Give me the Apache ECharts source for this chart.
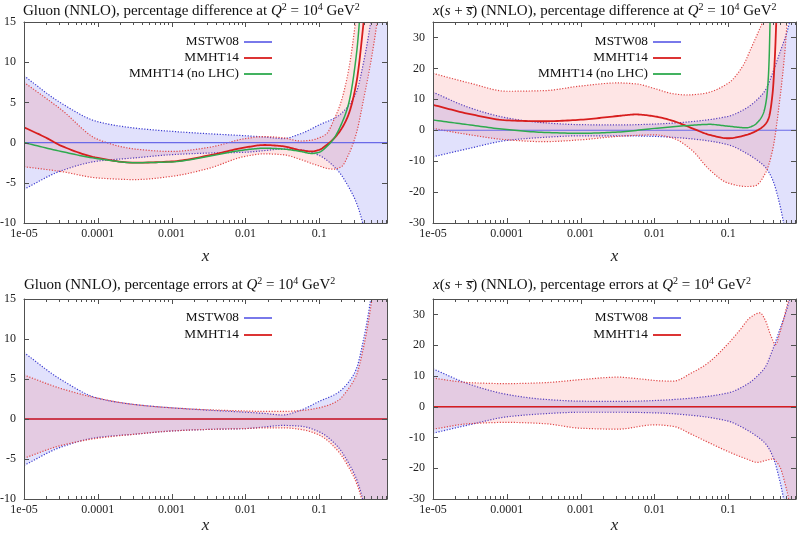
<!DOCTYPE html>
<html><head><meta charset="utf-8">
<script src="https://cdn.jsdelivr.net/npm/echarts@6/dist/echarts.min.js"></script>
<style>html,body{margin:0;padding:0;background:#fff}#c{width:798px;height:539px}</style>
</head><body><div id="c"></div>
<script>
// ---------- axes ----------
const X_MIN = 1e-5, X_MAX = 0.83;
const xTickValues = [1e-5, 1e-4, 1e-3, 1e-2, 1e-1];
const xTickLabels = ['1e-05', '0.0001', '0.001', '0.01', '0.1'];
const yTicksGluon = [-10, -5, 0, 5, 10, 15];
const yTicksStrange = [-30, -20, -10, 0, 10, 20, 30];
const zeroLine = [[1e-5, 0], [0.83, 0]];

// ---------- gluon: MSTW08 error band (same in difference and error panels) ----------
const gMstwUp = [[1e-5,8.3],[3.2e-5,4.9],[1e-4,2.6],[3.2e-4,1.8],[1e-3,1.4],[3.2e-3,1.1],[0.01,0.85],[0.018,0.7],[0.032,0.5],[0.056,1.1],[0.1,2.2],[0.18,3.3],[0.25,4.6],[0.32,6.3],[0.4,10],[0.5,15],[0.63,22],[0.83,32]];
const gMstwLo = [[1e-5,-5.8],[3.2e-5,-3.5],[1e-4,-2.3],[3.2e-4,-1.9],[1e-3,-1.5],[3.2e-3,-1.3],[0.01,-1.2],[0.018,-1.0],[0.032,-0.8],[0.056,-0.9],[0.1,-1.6],[0.18,-3.5],[0.25,-5.5],[0.32,-7.5],[0.4,-10.5],[0.5,-16],[0.63,-25],[0.83,-40]];
// gluon: MMHT14 difference from MSTW08 (central, band) and no-LHC fit
const gMmhtCen = [[1e-5,1.9],[2e-5,0.6],[3.2e-5,-0.4],[1e-4,-1.9],[3.2e-4,-2.5],[1e-3,-2.35],[3.2e-3,-1.6],[0.01,-0.6],[0.018,-0.3],[0.032,-0.45],[0.056,-0.95],[0.079,-1.1],[0.1,-0.9],[0.126,-0.3],[0.158,0.5],[0.2,1.7],[0.25,3.5],[0.32,7.5],[0.4,15],[0.5,25]];
const gMmhtDiffUp = [[1e-5,7.5],[3.2e-5,4.1],[1e-4,0.4],[3.2e-4,-0.8],[1e-3,-1.1],[3.2e-3,-0.6],[0.01,0.5],[0.018,0.75],[0.032,0.6],[0.056,0.2],[0.079,0.3],[0.1,0.6],[0.126,1.1],[0.158,2.8],[0.2,5.2],[0.25,9],[0.32,16],[0.4,25]];
const gMmhtDiffLo = [[1e-5,-3.0],[3.2e-5,-3.6],[1e-4,-4.4],[3.2e-4,-4.6],[1e-3,-4.2],[3.2e-3,-3.2],[0.01,-1.7],[0.018,-1.4],[0.032,-1.5],[0.056,-2.1],[0.079,-2.6],[0.1,-2.9],[0.126,-3.2],[0.158,-3.3],[0.2,-3.0],[0.25,-1.5],[0.32,1.2],[0.4,5.4],[0.5,10],[0.63,16],[0.8,25]];
const gNoLhc = [[1e-5,0.0],[3.2e-5,-1.1],[1e-4,-2.0],[3.2e-4,-2.5],[1e-3,-2.4],[3.2e-3,-1.7],[0.01,-0.9],[0.018,-0.7],[0.032,-0.8],[0.056,-1.1],[0.079,-1.35],[0.1,-1.2],[0.126,-0.5],[0.158,0.5],[0.2,2.3],[0.25,4.8],[0.32,11],[0.4,22]];
// gluon: MMHT14 error band
const gMmhtErrUp = [[1e-5,5.5],[3.2e-5,3.8],[1e-4,2.6],[3.2e-4,1.8],[1e-3,1.4],[3.2e-3,1.15],[0.01,1.0],[0.018,0.95],[0.032,0.95],[0.056,1.05],[0.1,1.4],[0.18,2.3],[0.25,3.8],[0.32,5.5],[0.4,9],[0.5,14],[0.63,21],[0.83,31]];
const gMmhtErrLo = [[1e-5,-4.9],[3.2e-5,-3.3],[1e-4,-2.4],[3.2e-4,-1.9],[1e-3,-1.5],[3.2e-3,-1.3],[0.01,-1.2],[0.018,-1.1],[0.032,-1.1],[0.056,-1.3],[0.1,-2.0],[0.18,-4.0],[0.25,-6.0],[0.32,-8.0],[0.4,-11],[0.5,-17],[0.63,-26],[0.83,-40]];

// ---------- strange x(s+sbar): MSTW08 error band ----------
const sMstwUp = [[1e-5,12.3],[3.2e-5,7.2],[1e-4,4.0],[3.2e-4,2.4],[1e-3,1.8],[3.2e-3,1.7],[0.01,2.0],[0.032,2.8],[0.1,4.5],[0.178,7.2],[0.25,10],[0.32,13],[0.4,18.5],[0.5,25],[0.63,32],[0.83,44]];
const sMstwLo = [[1e-5,-8.6],[3.2e-5,-5.8],[1e-4,-3.3],[3.2e-4,-2.3],[1e-3,-1.8],[3.2e-3,-1.8],[0.01,-2.0],[0.032,-2.8],[0.1,-4.7],[0.178,-7.5],[0.25,-9.8],[0.32,-12],[0.4,-16],[0.5,-24],[0.63,-36],[0.83,-50]];
// strange: MMHT14 difference
const sMmhtCen = [[1e-5,8.2],[3.2e-5,5.2],[1e-4,3.2],[3.2e-4,2.9],[1e-3,3.4],[3.2e-3,4.6],[0.0056,5.1],[0.01,4.5],[0.018,3.0],[0.032,0.7],[0.056,-1.5],[0.1,-2.6],[0.178,-1.5],[0.25,0.0],[0.32,2.0],[0.355,4],[0.4,12],[0.43,24],[0.45,36]];
const sMmhtDiffUp = [[1e-5,18.4],[3.2e-5,15.2],[1e-4,12.6],[3.2e-4,12.8],[1e-3,14.3],[3.2e-3,15.3],[0.0056,15.0],[0.01,13.5],[0.018,11.8],[0.027,11.4],[0.045,11.8],[0.1,15.2],[0.16,21],[0.2,26],[0.27,33],[0.32,37]];
const sMmhtDiffLo = [[1e-5,0.6],[3.2e-5,-1.5],[1e-4,-3.1],[3.2e-4,-3.7],[1e-3,-3.1],[3.2e-3,-2.0],[0.01,-1.5],[0.018,-2.6],[0.032,-6.4],[0.056,-12.8],[0.1,-17.1],[0.178,-18.2],[0.23,-18],[0.32,-13.9],[0.4,-6.4],[0.5,9.8],[0.59,26],[0.63,35],[0.7,45]];
const sNoLhc = [[1e-5,3.3],[3.2e-5,1.7],[1e-4,0.2],[3.2e-4,-0.7],[1e-3,-1.0],[3.2e-3,-0.6],[0.01,0.6],[0.032,1.6],[0.056,1.9],[0.1,1.3],[0.178,0.8],[0.22,1.5],[0.26,3.0],[0.3,5.5],[0.33,10],[0.35,17],[0.36,24],[0.37,36]];
// strange: MMHT14 error band
const sMmhtErrUp = [[1e-5,9.3],[3.2e-5,7.8],[1e-4,7.5],[3.2e-4,7.8],[1e-3,8.8],[3.2e-3,9.6],[0.0065,9.0],[0.012,8.4],[0.018,8.3],[0.032,11],[0.05,13.7],[0.1,20.5],[0.145,25],[0.2,29],[0.27,30.5],[0.32,28],[0.38,23],[0.44,20.2],[0.5,24],[0.63,33],[0.83,46]];
const sMmhtErrLo = [[1e-5,-7.3],[3.2e-5,-5.5],[1e-4,-5.1],[3.2e-4,-5.5],[1e-3,-7.0],[3.2e-3,-7.3],[0.01,-5.9],[0.018,-6.4],[0.032,-9.0],[0.056,-11.8],[0.1,-14.6],[0.178,-17],[0.25,-18.1],[0.32,-17.5],[0.4,-17],[0.5,-19.5],[0.59,-25],[0.66,-30],[0.83,-48]];

// ---------- styling ----------
const FONT = "'Liberation Serif','DejaVu Serif',serif";
const AX = '#505050';
const C_BLUE = '#6a6ae8', C_BLUE_DOT = '#3c3cd0', C_RED = '#d81e1e', C_RED_DOT = '#e04848', C_GREEN = '#2eaa4e';
const F_BLUE = 'rgba(80,80,240,0.17)', F_RED = 'rgba(245,80,80,0.15)';

const grids = [
  {left: 24, top: 22, width: 363, height: 201},
  {left: 433, top: 22, width: 363, height: 201},
  {left: 24, top: 299, width: 363, height: 200},
  {left: 433, top: 299, width: 363, height: 200}
];
const xMinor = [];
for (let d = -5; d <= -1; d++) for (let k = 2; k <= 9; k++) { const v = k * Math.pow(10, d); if (v < X_MAX) xMinor.push(v); }

function xLabel(v) {
  for (let i = 0; i < xTickValues.length; i++) if (Math.abs(Math.log10(v) - Math.log10(xTickValues[i])) < 1e-6) return xTickLabels[i];
  return '';
}

const xAxes = [], yAxes = [];
grids.forEach((g, gi) => {
  const nameGap = gi < 2 ? 25 : 18;
  const base = {gridIndex: gi, type: 'log', logBase: 10, min: X_MIN, max: X_MAX, z: 6,
    splitLine: {show: false}, minorTick: {show: false}, minorSplitLine: {show: false}};
  xAxes.push(Object.assign({}, base, {position: 'bottom',
    axisLine: {show: true, onZero: false, lineStyle: {color: AX, width: 1}},
    axisTick: {show: false},
    axisLabel: {show: true, customValues: xTickValues, formatter: xLabel, margin: 5, fontSize: 12, fontFamily: FONT, color: '#222'},
    name: 'x', nameLocation: 'middle', nameGap: nameGap,
    nameTextStyle: {fontStyle: 'italic', fontSize: 17, fontFamily: FONT, color: '#222'}}));
  xAxes.push(Object.assign({}, base, {position: 'top',
    axisLine: {show: true, onZero: false, lineStyle: {color: AX, width: 1}},
    axisTick: {show: false}, axisLabel: {show: false}}));
  const gl = (gi % 2 === 0);
  const ticks = gl ? yTicksGluon : yTicksStrange;
  const ybase = {gridIndex: gi, type: 'value', min: gl ? -10 : -30, max: gl ? 15 : 35, interval: gl ? 5 : 10, z: 6,
    splitLine: {show: false}, axisTick: {show: false}};
  yAxes.push(Object.assign({}, ybase, {position: 'left',
    axisLine: {show: true, onZero: false, lineStyle: {color: AX, width: 1}},
    axisLabel: {show: true, customValues: ticks, margin: 8, fontSize: 12, fontFamily: FONT, color: '#222'}}));
  yAxes.push(Object.assign({}, ybase, {position: 'right',
    axisLine: {show: true, onZero: false, lineStyle: {color: AX, width: 1}},
    axisLabel: {show: false}}));
});

// monotone cubic sampling of projected points (rendering only)
function sampleCurve(P) {
  const N = P.length; if (N < 3) return P;
  const dx = [], m = [], t = [];
  for (let i = 0; i < N - 1; i++) { dx[i] = P[i+1][0] - P[i][0]; m[i] = (P[i+1][1] - P[i][1]) / dx[i]; }
  t[0] = m[0]; t[N-1] = m[N-2];
  for (let i = 1; i < N - 1; i++) {
    if (m[i-1] * m[i] <= 0) t[i] = 0;
    else { const w1 = 2*dx[i] + dx[i-1], w2 = dx[i] + 2*dx[i-1]; t[i] = (w1 + w2) / (w1/m[i-1] + w2/m[i]); }
  }
  const out = [];
  for (let i = 0; i < N - 1; i++) {
    const h = dx[i], n = 14;
    for (let k = 0; k < n; k++) {
      const s = k / n, s2 = s*s, s3 = s2*s;
      const y = (2*s3 - 3*s2 + 1) * P[i][1] + (s3 - 2*s2 + s) * h * t[i] + (-2*s3 + 3*s2) * P[i+1][1] + (s3 - s2) * h * t[i+1];
      out.push([P[i][0] + s*h, y]);
    }
  }
  out.push(P[N-1]);
  return out;
}
function clipOf(cs) { return {type: 'rect', shape: {x: cs.x, y: cs.y, width: cs.width, height: cs.height}}; }

function bandSeries(gi, up, lo, fill, stroke) {
  return {type: 'custom', coordinateSystem: 'cartesian2d', xAxisIndex: gi*2, yAxisIndex: gi*2,
    data: [[1e-3, 0]], silent: true, z: 2, clip: true,
    renderItem: function (params, api) {
      const U = sampleCurve(up.map(p => api.coord(p)));
      const L = sampleCurve(lo.map(p => api.coord(p)));
      const dot = {stroke: stroke, lineWidth: 1.2, lineDash: [1.2, 1.6], fill: null};
      return {type: 'group', clipPath: clipOf(params.coordSys), children: [
        {type: 'polygon', shape: {points: U.concat(L.slice().reverse())}, style: {fill: fill, stroke: null}},
        {type: 'polyline', shape: {points: U}, style: dot},
        {type: 'polyline', shape: {points: L}, style: dot}
      ]};
    }};
}
function curveSeries(gi, data, color, width) {
  return {type: 'custom', coordinateSystem: 'cartesian2d', xAxisIndex: gi*2, yAxisIndex: gi*2,
    data: [[1e-3, 0]], silent: true, z: 3, clip: true,
    renderItem: function (params, api) {
      const P = sampleCurve(data.map(p => api.coord(p)));
      return {type: 'group', clipPath: clipOf(params.coordSys), children: [
        {type: 'polyline', shape: {points: P}, style: {stroke: color, lineWidth: width, fill: null}}
      ]};
    }};
}
// inward tick marks on all four sides, placed through the axes' own scales
function tickSeries(gi, yTicks) {
  return {type: 'custom', coordinateSystem: 'cartesian2d', xAxisIndex: gi*2, yAxisIndex: gi*2,
    data: [[1e-3, 0]], silent: true, z: 7, clip: false,
    renderItem: function (params, api) {
      const cs = params.coordSys, top = cs.y, bot = cs.y + cs.height, lft = cs.x, rgt = cs.x + cs.width;
      const ch = [], st = {stroke: AX, lineWidth: 1};
      const addX = (v, len) => {
        const px = Math.round(api.coord([v, 0])[0]) + 0.5;
        ch.push({type: 'line', shape: {x1: px, y1: bot, x2: px, y2: bot - len}, style: st});
        ch.push({type: 'line', shape: {x1: px, y1: top, x2: px, y2: top + len}, style: st});
      };
      xTickValues.forEach(v => addX(v, 5));
      xMinor.forEach(v => addX(v, 3));
      yTicks.forEach(v => {
        const py = Math.round(api.coord([1e-3, v])[1]) + 0.5;
        ch.push({type: 'line', shape: {x1: lft, y1: py, x2: lft + 5, y2: py}, style: st});
        ch.push({type: 'line', shape: {x1: rgt, y1: py, x2: rgt - 5, y2: py}, style: st});
      });
      return {type: 'group', children: ch};
    }};
}
// legend carriers (no data; the curves are drawn above)
function legendSeries(gi, name, color) {
  return {type: 'line', name: name, xAxisIndex: gi*2, yAxisIndex: gi*2, data: [], symbol: 'none',
    color: color, itemStyle: {color: color}, lineStyle: {color: color, width: 2}};
}

const series = [
  legendSeries(0, 'MSTW08', C_BLUE), legendSeries(0, 'MMHT14', C_RED), legendSeries(0, 'MMHT14 (no LHC)', C_GREEN),
  // top-left: gluon difference
  bandSeries(0, gMstwUp, gMstwLo, F_BLUE, C_BLUE_DOT),
  bandSeries(0, gMmhtDiffUp, gMmhtDiffLo, F_RED, C_RED_DOT),
  curveSeries(0, zeroLine, C_BLUE, 1.2),
  curveSeries(0, gMmhtCen, C_RED, 1.8),
  curveSeries(0, gNoLhc, C_GREEN, 1.5),
  tickSeries(0, yTicksGluon),
  // top-right: strange difference
  bandSeries(1, sMstwUp, sMstwLo, F_BLUE, C_BLUE_DOT),
  bandSeries(1, sMmhtDiffUp, sMmhtDiffLo, F_RED, C_RED_DOT),
  curveSeries(1, zeroLine, C_BLUE, 1.2),
  curveSeries(1, sMmhtCen, C_RED, 1.8),
  curveSeries(1, sNoLhc, C_GREEN, 1.5),
  tickSeries(1, yTicksStrange),
  // bottom-left: gluon errors
  bandSeries(2, gMstwUp, gMstwLo, F_BLUE, C_BLUE_DOT),
  bandSeries(2, gMmhtErrUp, gMmhtErrLo, F_RED, C_RED_DOT),
  curveSeries(2, zeroLine, C_BLUE, 1.2),
  curveSeries(2, zeroLine, C_RED, 1.4),
  tickSeries(2, yTicksGluon),
  // bottom-right: strange errors
  bandSeries(3, sMstwUp, sMstwLo, F_BLUE, C_BLUE_DOT),
  bandSeries(3, sMmhtErrUp, sMmhtErrLo, F_RED, C_RED_DOT),
  curveSeries(3, zeroLine, C_BLUE, 1.2),
  curveSeries(3, zeroLine, C_RED, 1.6),
  tickSeries(3, yTicksStrange)
];

function legend(name, right, top) {
  return {data: [name], right: right, top: top, align: 'right', orient: 'horizontal', icon: 'rect',
    itemWidth: 28, itemHeight: 1.8, padding: 0, selectedMode: false,
    textStyle: {fontFamily: FONT, fontSize: 13.3, color: '#111'}};
}
const legends = [
  legend('MSTW08', 526, 35.5), legend('MMHT14', 526, 51.5), legend('MMHT14 (no LHC)', 526, 67.5),
  legend('MSTW08', 117, 35.5), legend('MMHT14', 117, 51.5), legend('MMHT14 (no LHC)', 117, 67.5),
  legend('MSTW08', 526, 311.5), legend('MMHT14', 526, 328.5),
  legend('MSTW08', 117, 311.5), legend('MMHT14', 117, 328.5)
];

const rich = {
  n: {fontSize: 15, fontFamily: FONT, fontWeight: 'normal', color: '#111', lineHeight: 18},
  i: {fontSize: 15, fontFamily: FONT, fontWeight: 'normal', fontStyle: 'italic', color: '#111', lineHeight: 18},
  s: {fontSize: 10, fontFamily: FONT, fontWeight: 'normal', color: '#111', verticalAlign: 'top', lineHeight: 12}
};
const qPart = '{i|Q}{s|2}{n| = 10}{s|4}{n| GeV}{s|2}';
const gluonHead = '{n|Gluon (NNLO), ';
const strangeHead = '{i|x}{n|(}{i|s}{n| + }{i|s\u0305}{n|) (NNLO), ';
function title(text, left, top) {
  return {text: text, left: left, top: top, padding: 0, textStyle: {fontWeight: 'normal', rich: rich}};
}
const titles = [
  title(gluonHead + 'percentage difference at }' + qPart, 23, 2),
  title(strangeHead + 'percentage difference at }' + qPart, 433, 2),
  title(gluonHead + 'percentage errors at }' + qPart, 24, 276),
  title(strangeHead + 'percentage errors at }' + qPart, 433, 276)
];

const chart = echarts.init(document.getElementById('c'), null, {renderer: 'canvas'});
chart.setOption({
  animation: false,
  backgroundColor: '#fff',
  title: titles,
  legend: legends,
  grid: grids.map(g => Object.assign({outerBoundsMode: 'none', containLabel: false}, g)),
  xAxis: xAxes,
  yAxis: yAxes,
  series: series
});
</script>
</body></html>
